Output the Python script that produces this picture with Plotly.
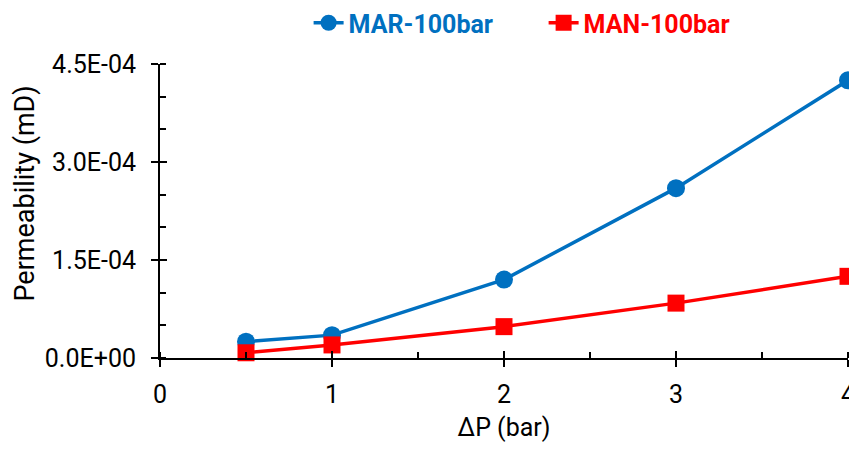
import plotly.graph_objects as go

# Pressure differential (bar) and measured permeability (mD)
dp_bar = [0.5, 1, 2, 3, 4]
perm_mar = [2.5e-5, 3.5e-5, 1.2e-4, 2.6e-4, 4.25e-4]
perm_man = [8.0e-6, 2.0e-5, 4.8e-5, 8.4e-5, 1.25e-4]

series_names = ["MAR-100bar", "MAN-100bar"]
blue = "#0070C0"
red = "#FF0000"

x_ticks = [0, 1, 2, 3, 4]
y_ticks = [0, 1.5e-4, 3.0e-4, 4.5e-4]
y_labels = ["0.0E+00", "1.5E-04", "3.0E-04", "4.5E-04"]

FONT = "Roboto, sans-serif"

fig = go.Figure()
fig.add_trace(go.Scatter(
    x=dp_bar, y=perm_mar, mode="lines+markers",
    name=f"<b><span style='color:{blue}'>{series_names[0]}</span></b>",
    line=dict(color=blue, width=3.5),
    marker=dict(symbol="circle", size=18, color=blue),
    cliponaxis=False,
))
fig.add_trace(go.Scatter(
    x=dp_bar, y=perm_man, mode="lines+markers",
    name=f"<b><span style='color:{red}'>{series_names[1]}</span></b>",
    line=dict(color=red, width=3.5),
    marker=dict(symbol="square", size=17, color=red),
    cliponaxis=False,
))

axis_common = dict(showgrid=False, zeroline=False, linecolor="black", linewidth=2,
                   tickcolor="black", tickwidth=2, ticklabeloverflow="allow",
                   automargin=False)

fig.update_layout(
    width=849, height=449,
    margin=dict(l=160, r=1, t=64, b=91),
    paper_bgcolor="white", plot_bgcolor="white",
    font=dict(family=FONT, color="black"),
    showlegend=True,
    legend=dict(orientation="h", x=0.216, xanchor="left", y=1.0, yanchor="top",
                yref="container", font=dict(size=25, family=FONT),
                entrywidth=190, entrywidthmode="pixels",
                bgcolor="rgba(0,0,0,0)", traceorder="normal"),
    xaxis=dict(**axis_common, range=[0, 4], tickvals=x_ticks,
               ticks="outside", ticklen=7, showline=True, ticklabelstandoff=6,
               minor=dict(dtick=0.5, ticks="inside", ticklen=6, tickcolor="black", tickwidth=2),
               tickfont=dict(size=25, family=FONT),
               title=dict(text="ΔP (bar)", font=dict(size=25, family=FONT), standoff=10)),
    yaxis=dict(**axis_common, range=[0, 4.5e-4], tickvals=y_ticks, ticktext=y_labels,
               ticks="outside", ticklen=7, showline=True, ticklabelstandoff=10,
               minor=dict(dtick=0.5e-4, ticks="inside", ticklen=6, tickcolor="black", tickwidth=2),
               tickfont=dict(size=25, family=FONT)),
    # overlay axes supply the inner half of the crossing major ticks
    xaxis2=dict(overlaying="x", range=[0, 4], tickvals=x_ticks, ticks="inside", ticklen=7,
                tickcolor="black", tickwidth=2, showticklabels=False, showgrid=False,
                zeroline=False, showline=False, side="bottom", anchor="y"),
    yaxis2=dict(overlaying="y", range=[0, 4.5e-4], tickvals=y_ticks, ticks="inside", ticklen=7,
                tickcolor="black", tickwidth=2, showticklabels=False, showgrid=False,
                zeroline=False, showline=False, side="left", anchor="x"),
)

# y-axis title, set a little above the middle of the axis
fig.add_annotation(text="Permeability (mD)", textangle=-90, showarrow=False,
                   xref="paper", yref="paper", x=-0.196, y=0.56,
                   xanchor="center", yanchor="middle",
                   font=dict(size=27, family=FONT, color="black"))

# invisible trace so the overlay axes are drawn
fig.add_trace(go.Scatter(x=[0], y=[0], xaxis="x2", yaxis="y2", mode="markers",
                         marker=dict(opacity=0), showlegend=False, hoverinfo="skip"))

fig.write_html("out.html")
